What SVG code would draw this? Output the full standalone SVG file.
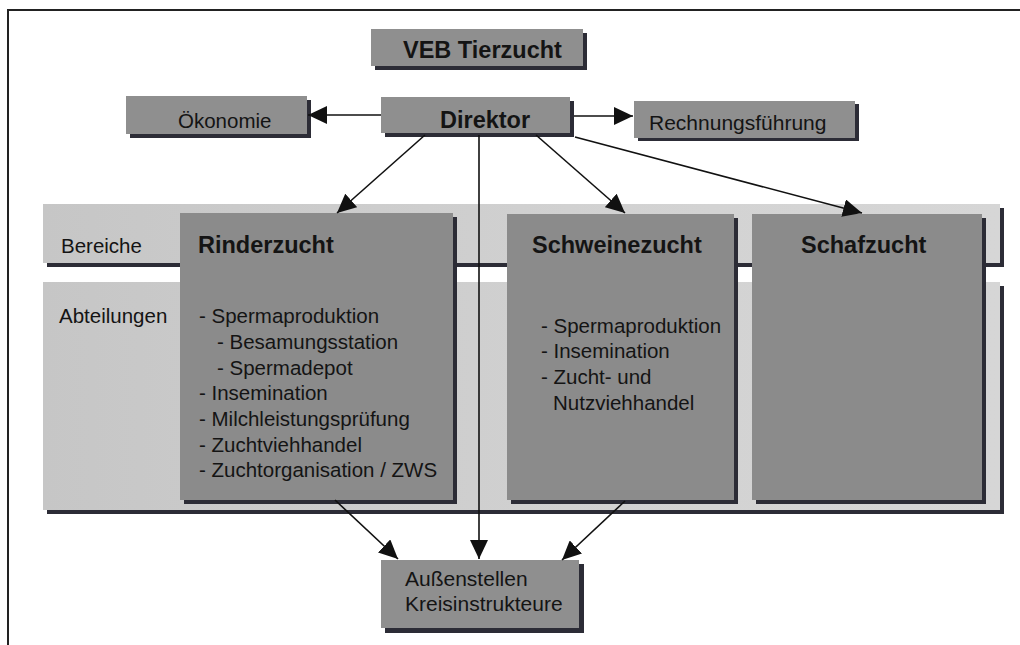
<svg xmlns="http://www.w3.org/2000/svg" width="1020" height="645" viewBox="0 0 1020 645">
  <defs>
    <style>
      text { font-family: "Liberation Sans", Arial, sans-serif; fill: #141414; }
      .b { font-weight: bold; font-size: 23.5px; }
      .r { font-size: 20.5px; }
      .box { fill: #8f8f8f; }
      .big { fill: #8b8b8b; }
      .band { fill: url(#bandGrad); }
      .sh { fill: #2c2c36; }
      .conn { stroke: #111; stroke-width: 1.6; fill: none; marker-end: url(#arr); }
    </style>
    <linearGradient id="bandGrad" x1="0" y1="0" x2="1" y2="0">
      <stop offset="0" stop-color="#c6c6c6"/>
      <stop offset="0.6" stop-color="#d2d2d2"/>
      <stop offset="1" stop-color="#d6d6d6"/>
    </linearGradient>
    <marker id="arr" markerUnits="userSpaceOnUse" markerWidth="20" markerHeight="18" viewBox="0 0 20 18" refX="19" refY="9" orient="auto">
      <path d="M0,0 L19,9 L0,18 Z" fill="#111"/>
    </marker>
  </defs>

  <rect width="1020" height="645" fill="#ffffff"/>
  <path d="M8,645 V10 H1020" stroke="#222" stroke-width="2" fill="none"/>

  <g id="band-bereiche">
    <rect class="sh" x="47" y="208" width="957" height="59"/>
    <rect class="band" x="43" y="204" width="957" height="59"/>
    <text class="r" x="61" y="253">Bereiche</text>
  </g>
  <g id="band-abteilungen">
    <rect class="sh" x="47" y="286" width="957" height="228"/>
    <rect class="band" x="43" y="282" width="957" height="228"/>
    <text class="r" x="59" y="323">Abteilungen</text>
  </g>

  <g id="veb">
    <rect class="sh" x="375" y="33" width="212" height="37"/>
    <rect class="box" x="371" y="29" width="212" height="37"/>
    <text class="b" x="403" y="58">VEB Tierzucht</text>
  </g>
  <g id="oekonomie">
    <rect class="sh" x="130" y="100" width="181" height="38"/>
    <rect class="box" x="126" y="96" width="181" height="38"/>
    <text class="r" x="178" y="128">Ökonomie</text>
  </g>
  <g id="direktor">
    <rect class="sh" x="385" y="101" width="189" height="36"/>
    <rect class="box" x="381" y="97" width="189" height="36"/>
    <text class="b" x="440" y="128">Direktor</text>
  </g>
  <g id="rechnung">
    <rect class="sh" x="638" y="104" width="221" height="37"/>
    <rect class="box" x="634" y="101" width="221" height="37"/>
    <text class="r" x="649" y="130" style="font-size:21px">Rechnungsführung</text>
  </g>

  <g id="rinderzucht">
    <rect class="sh" x="184" y="217" width="273" height="287"/>
    <rect class="big" x="180" y="213" width="273" height="287"/>
    <text class="b" x="198" y="253">Rinderzucht</text>
    <text class="r" x="199" y="323">- Spermaproduktion</text>
    <text class="r" x="217" y="349">- Besamungsstation</text>
    <text class="r" x="217" y="375">- Spermadepot</text>
    <text class="r" x="199" y="400">- Insemination</text>
    <text class="r" x="199" y="426">- Milchleistungsprüfung</text>
    <text class="r" x="199" y="452">- Zuchtviehhandel</text>
    <text class="r" x="199" y="477">- Zuchtorganisation / ZWS</text>
  </g>
  <g id="schweinezucht">
    <rect class="sh" x="511" y="218" width="227" height="286"/>
    <rect class="big" x="507" y="214" width="227" height="286"/>
    <text class="b" x="532" y="253">Schweinezucht</text>
    <text class="r" x="541" y="333">- Spermaproduktion</text>
    <text class="r" x="541" y="358">- Insemination</text>
    <text class="r" x="541" y="384">- Zucht- und</text>
    <text class="r" x="553" y="410">Nutzviehhandel</text>
  </g>
  <g id="schafzucht">
    <rect class="sh" x="756" y="218" width="230" height="286"/>
    <rect class="big" x="752" y="214" width="230" height="286"/>
    <text class="b" x="801" y="253">Schafzucht</text>
  </g>

  <g id="aussenstellen">
    <rect class="sh" x="385" y="564" width="199" height="69"/>
    <rect class="box" x="381" y="560" width="198" height="68"/>
    <text x="405" y="586" style="font-size:21px">Außenstellen</text>
    <text x="405" y="611" style="font-size:21px">Kreisinstrukteure</text>
  </g>

  <g id="connectors">
    <line class="conn" x1="381" y1="115" x2="308" y2="115"/>
    <line class="conn" x1="574" y1="116" x2="633" y2="116"/>
    <line class="conn" x1="425" y1="135" x2="337" y2="213"/>
    <line class="conn" x1="536" y1="135" x2="625" y2="213"/>
    <line class="conn" x1="575" y1="137" x2="862" y2="213"/>
    <line class="conn" x1="479" y1="135" x2="479" y2="559"/>
    <line class="conn" x1="335" y1="500" x2="398" y2="559"/>
    <line class="conn" x1="625" y1="501" x2="562" y2="560"/>
  </g>
</svg>
